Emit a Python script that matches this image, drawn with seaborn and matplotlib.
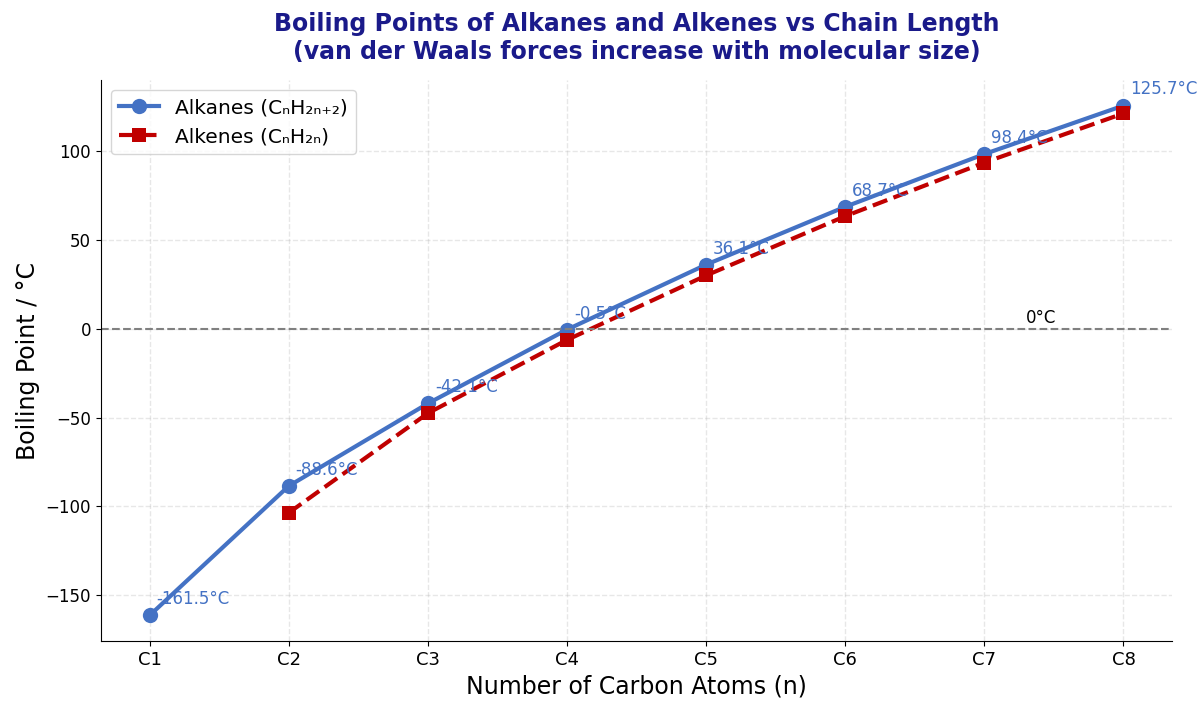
import numpy as np
import pandas as pd
import matplotlib
matplotlib.use("Agg")
import matplotlib.pyplot as plt
import seaborn as sns

carbons = [1, 2, 3, 4, 5, 6, 7, 8]
tick_labels = ["C1", "C2", "C3", "C4", "C5", "C6", "C7", "C8"]
alkane_bp = [-161.5, -88.6, -42.1, -0.5, 36.1, 68.7, 98.4, 125.7]
alkene_bp = [np.nan, -103.7, -47.6, -6.3, 30.0, 63.4, 93.6, 121.3]

plt.style.use("default")
plt.rcParams['font.family'] = ['DejaVu Sans']

df = pd.DataFrame({"n": carbons, "alkane": alkane_bp, "alkene": alkene_bp})

fig, ax = plt.subplots(figsize=(12.01, 7.09), dpi=100)

blue = "#4472C4"
red = "#C00000"

sns.lineplot(data=df, x="n", y="alkane", ax=ax, color=blue, lw=3,
             marker="o", markersize=11, markeredgewidth=0,
             label="Alkanes (CₙH₂ₙ₊₂)")
sns.lineplot(data=df.dropna(), x="n", y="alkene", ax=ax, color=red, lw=3,
             linestyle="--", marker="s", markersize=10, markeredgewidth=0,
             label="Alkenes (CₙH₂ₙ)")

for x, y in zip(carbons, alkane_bp):
    ax.annotate(f"{y}°C", (x, y), xytext=(5, 8), textcoords="offset points",
                color=blue, fontsize=12)

ax.axhline(0, color="gray", linestyle="--", lw=1.5)
ax.text(7.3, 3, "0°C", fontsize=12, color="black")

ax.set_xticks(carbons)
ax.set_xticklabels(tick_labels)
ax.tick_params(axis="x", labelsize=13)
ax.tick_params(axis="y", labelsize=12)
ax.grid(True, linestyle="--", alpha=0.3, linewidth=1.0)
ax.set_xlabel("Number of Carbon Atoms (n)", fontsize=17)
ax.set_ylabel("Boiling Point / °C", fontsize=17)
ax.set_title("Boiling Points of Alkanes and Alkenes vs Chain Length\n"
             "(van der Waals forces increase with molecular size)",
             fontsize=17, fontweight="bold", color="#1a1a8a", pad=15)
ax.legend(loc="upper left", fontsize=14.5)
sns.despine(ax=ax)

fig.subplots_adjust(left=0.084, right=0.976, top=0.887, bottom=0.096)
fig.savefig("out.png", dpi=100)
